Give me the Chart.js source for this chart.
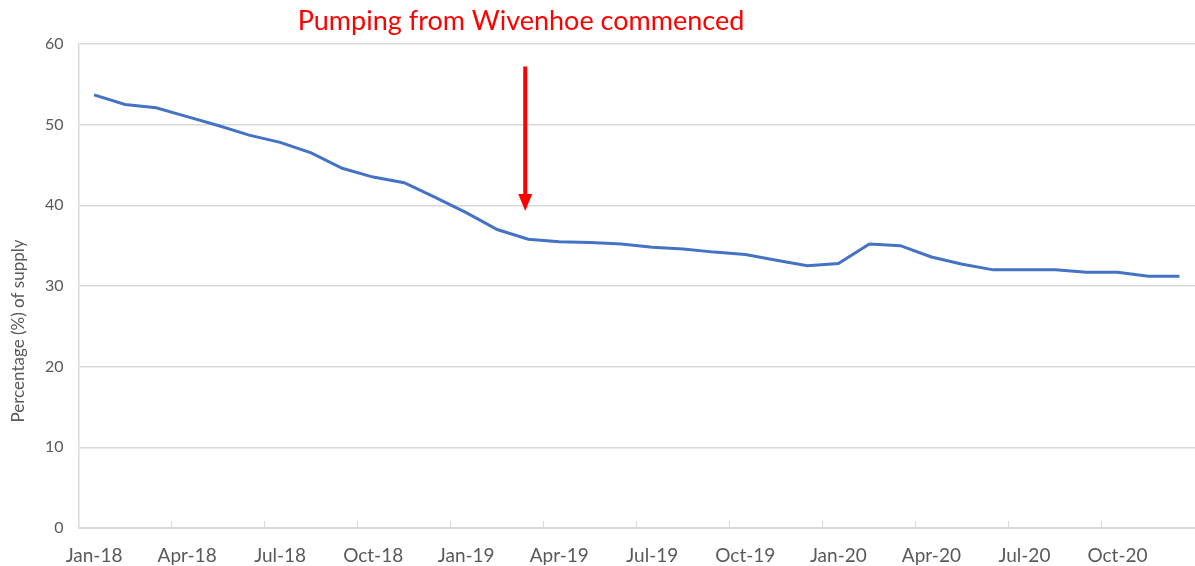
<!DOCTYPE html>
<html>
<head>
<meta charset="utf-8">
<script src="https://cdn.jsdelivr.net/npm/chart.js@4.4.0/dist/chart.umd.min.js"></script>
<style>
  body { margin: 0; background: #fff; }
</style>
</head>
<body>
<canvas id="myChart" width="1195" height="566"></canvas>
<script>
var months = ["Jan-18", "Feb-18", "Mar-18", "Apr-18", "May-18", "Jun-18",
  "Jul-18", "Aug-18", "Sep-18", "Oct-18", "Nov-18", "Dec-18",
  "Jan-19", "Feb-19", "Mar-19", "Apr-19", "May-19", "Jun-19",
  "Jul-19", "Aug-19", "Sep-19", "Oct-19", "Nov-19", "Dec-19",
  "Jan-20", "Feb-20", "Mar-20", "Apr-20", "May-20", "Jun-20",
  "Jul-20", "Aug-20", "Sep-20", "Oct-20", "Nov-20", "Dec-20"];

var supply = [53.7, 52.5, 52.1, 51.0, 49.9, 48.7,
  47.8, 46.5, 44.6, 43.5, 42.8, 41.0,
  39.1, 37.0, 35.8, 35.5, 35.4, 35.2,
  34.8, 34.6, 34.2, 33.9, 33.2, 32.5,
  32.8, 35.2, 35.0, 33.6, 32.7, 32.0,
  32.0, 32.0, 31.7, 31.7, 31.2, 31.2];

var yTicks = [0, 10, 20, 30, 40, 50, 60];

var note = "Pumping from Wivenhoe commenced";
var yTitle = "Percentage (%) of supply";
var noteIndex = 14; // arrow points at Mar-19

var textColor = "#595959";
var gridColor = "#d9d9d9";
var fontFamily = "Lato, 'Open Sans', sans-serif";

// red note with arrow, plus the y axis title (sits low like in Excel)
var notePlugin = {
  id: "note",
  afterDraw: function (chart) {
    var c = chart.ctx;
    var x = chart.scales.x.getPixelForValue(noteIndex) - 3;
    var y = chart.scales.y;
    var top = y.getPixelForValue(57.2);
    var tip = y.getPixelForValue(39.3);
    c.save();
    c.fillStyle = "#ff0000";
    c.strokeStyle = "#ff0000";
    c.font = "27px " + fontFamily;
    c.textAlign = "center";
    c.textBaseline = "middle";
    c.fillText(note, 521, 21);
    c.lineWidth = 4;
    c.beginPath();
    c.moveTo(x, top);
    c.lineTo(x, tip - 12);
    c.stroke();
    c.beginPath();
    c.moveTo(x - 7, tip - 17);
    c.lineTo(x + 7, tip - 17);
    c.lineTo(x, tip);
    c.closePath();
    c.fill();

    c.translate(19, 331);
    c.rotate(-Math.PI / 2);
    c.fillStyle = textColor;
    c.font = "17px " + fontFamily;
    c.fillText(yTitle, 0, 0);
    c.restore();
  },
};

var ctx = document.getElementById("myChart").getContext("2d");

new Chart(ctx, {
  type: "line",
  data: {
    labels: months,
    datasets: [
      {
        label: "Supply",
        data: supply,
        borderColor: "#4472C4",
        borderWidth: 3,
        pointRadius: 0,
        tension: 0,
        fill: false,
      },
    ],
  },
  options: {
    responsive: false,
    animation: false,
    layout: { padding: { top: 44, left: 30, right: 0, bottom: -25 } },
    plugins: {
      legend: { display: false },
      tooltip: { enabled: false },
    },
    scales: {
      x: {
        offset: true,
        grid: {
          offset: true,
          drawOnChartArea: false,
          tickLength: -7,
          tickColor: function (context) {
            return context.index % 3 === 0 ? gridColor : "rgba(0,0,0,0)";
          },
        },
        border: { color: gridColor, width: 2 },
        ticks: {
          autoSkip: false,
          maxRotation: 0,
          padding: 15,
          color: textColor,
          font: { family: fontFamily, size: 19, lineHeight: "40px" },
          callback: function (value, index) {
            return index % 3 === 0 ? months[index] : "";
          },
        },
      },
      y: {
        min: 0,
        max: 60,
        afterBuildTicks: function (scale) {
          scale.ticks = yTicks.map(function (v) {
            return { value: v };
          });
        },
        grid: { color: gridColor, lineWidth: 1.5, drawTicks: false },
        border: { color: gridColor, width: 1.5 },
        ticks: {
          padding: 15,
          color: textColor,
          font: { family: fontFamily, size: 16 },
        },
      },
    },
  },
  plugins: [notePlugin],
});
</script>
</body>
</html>
